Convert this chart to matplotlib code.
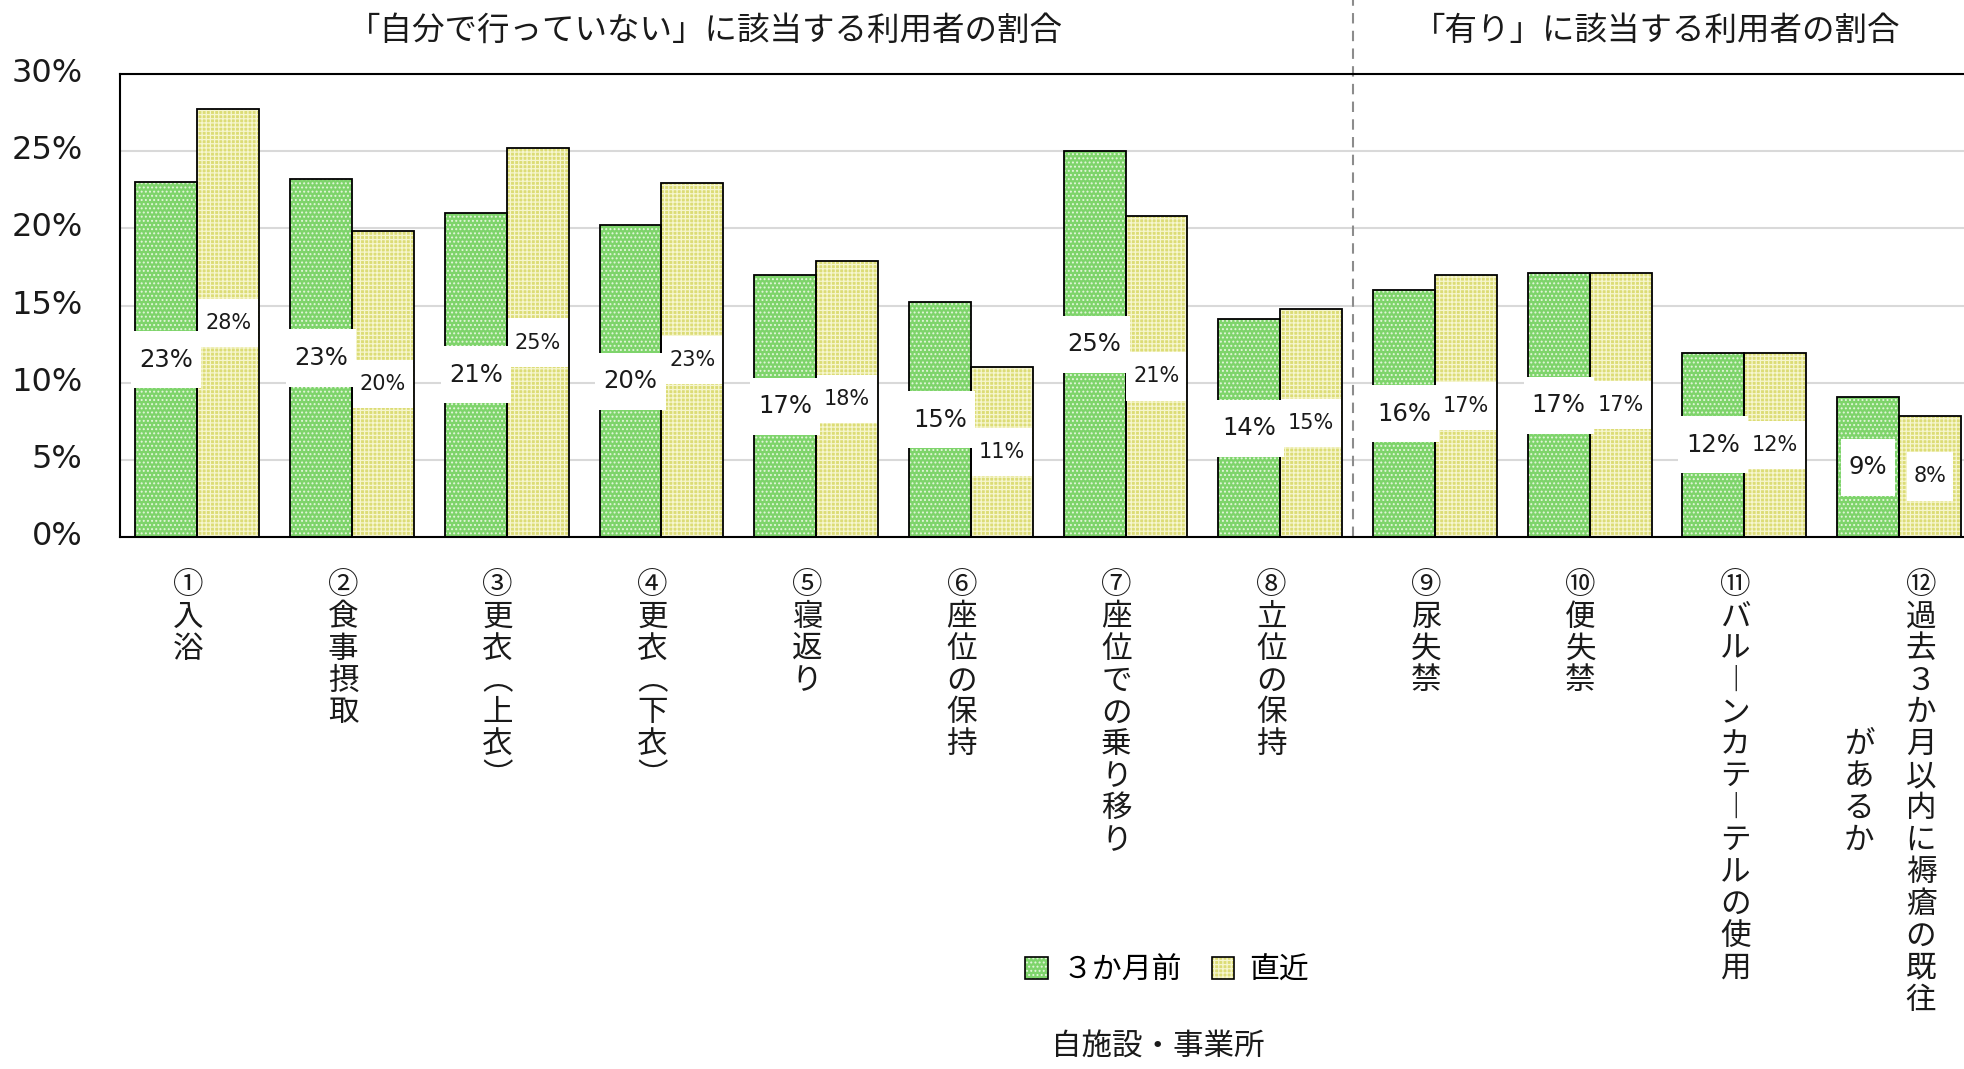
import numpy as np
import matplotlib
matplotlib.use('Agg')
import matplotlib.pyplot as plt
import matplotlib.transforms as mtransforms
from matplotlib.patches import Patch
from matplotlib.path import Path

JP = 'Noto Sans CJK JP'
plt.rcParams['font.family'] = ['DejaVu Sans', JP]
plt.rcParams['hatch.linewidth'] = 0.9

# ---------------- data ----------------
categories = ['①入浴', '②食事摂取', '③更衣（上衣）', '④更衣（下衣）', '⑤寝返り', '⑥座位の保持',
              '⑦座位での乗り移り', '⑧立位の保持', '⑨尿失禁', '⑩便失禁',
              '⑪バルーンカテーテルの使用', '⑫過去３か月以内に褥瘡の既往\nがあるか']
series_names = ['３か月前', '直近']
before = [22.98, 23.2, 21.0, 20.2, 16.95, 15.2, 25.0, 14.1, 16.0, 17.1, 11.95, 9.05]
recent = [27.7, 19.8, 25.2, 22.95, 17.9, 11.0, 20.8, 14.8, 16.95, 17.1, 11.95, 7.85]
section_titles = ['「自分で行っていない」に該当する利用者の割合', '「有り」に該当する利用者の割合']
x_label = '自施設・事業所'
yticks = [0, 5, 10, 15, 20, 25, 30]

# ---------------- style ----------------
W, H = 1964, 1069
green, green_h = '#7ed46b', '#e4f6dc'
yellow, yellow_h = '#dcdc76', '#f6f6cf'
VERT = {'（': '︵', '）': '︶', 'ー': '︱'}


class XYPad:
    def __init__(self, px, py):
        self.px, self.py = px, py

    def __call__(self, x0, y0, width, height, mutation_size):
        px = self.px * mutation_size
        py = self.py * mutation_size
        x0, y0 = x0 - px, y0 - py
        x1, y1 = x0 + width + 2 * px, y0 + height + 2 * py
        return Path([(x0, y0), (x1, y0), (x1, y1), (x0, y1), (x0, y0)], closed=True)


fig = plt.figure(figsize=(W / 100, H / 100), dpi=100)
ax = fig.add_axes([120 / W, 1 - 537 / H, 1 - 120 / W, 463 / H])

x = np.arange(len(categories))
bw = 0.4
for vals, off, fc, hc, hatch in [(before, -bw / 2, green, green_h, '....'),
                                  (recent, bw / 2, yellow, yellow_h, '++++')]:
    ax.bar(x + off, vals, bw, color=fc, edgecolor=hc, linewidth=0, hatch=hatch, zorder=2)
    ax.bar(x + off, vals, bw, facecolor='none', edgecolor='black', linewidth=1.3, zorder=3)

for vals, off, fs in [(before, -bw / 2, 17.5), (recent, bw / 2, 15)]:
    for xi, v in zip(x, vals):
        ax.text(xi + off, v / 2, f'{round(v)}%', ha='center', va='center', fontsize=fs,
                color='#1a1a1a', zorder=5,
                bbox=dict(boxstyle=XYPad(0.33, 0.68), facecolor='white', edgecolor='none'))

ax.set_xlim(-0.5, 11.42)
ax.set_ylim(0, 30)
ax.set_yticks(yticks)
ax.set_yticklabels([f'{t}%' for t in yticks], fontsize=23, color='#1a1a1a')
ax.tick_params(axis='y', length=0, pad=27)
shift = mtransforms.ScaledTranslation(0, 4 / 100, fig.dpi_scale_trans)
for lbl in ax.get_yticklabels():
    lbl.set_transform(lbl.get_transform() + shift)
ax.set_xticks([])
ax.set_axisbelow(True)
ax.yaxis.grid(True, color='#d9d9d9', linewidth=1.5)
for s in ['left', 'bottom', 'top']:
    ax.spines[s].set_linewidth(1.5)
    ax.spines[s].set_color('black')
ax.spines['right'].set_visible(False)

# dashed separator
ax.axvline(7.47, ymin=0, ymax=1.17, color='#8c8c8c', linewidth=1.5,
           linestyle=(0, (5, 3.5)), clip_on=False, zorder=1)

# section titles
fig.text(705 / W, 1 - 31 / H, section_titles[0], ha='center', va='center',
         fontsize=23.4, family=JP, color='#1a1a1a')
fig.text(1657 / W, 1 - 31 / H, section_titles[1], ha='center', va='center',
         fontsize=23.4, family=JP, color='#1a1a1a')

# vertical category labels
fs_v = 22
pitch = 23.0
first = 32.4
dx = -6.5
colsp = 44.6
for i, lab in enumerate(categories):
    cols = lab.split('\n')
    n0 = len(cols[0])
    center = first + (n0 - 1) / 2 * pitch
    nc = len(cols)
    for j, col in enumerate(cols):
        xo = dx + (nc - 1) / 2 * colsp - j * colsp
        start = first if j == 0 else center - (len(col) - 1) / 2 * pitch
        for k, ch in enumerate(col):
            yc = start + k * pitch
            ax.annotate(VERT.get(ch, ch), xy=(i, 0), xycoords=('data', 'axes fraction'),
                        xytext=(xo, -(yc + 0.38 * fs_v)), textcoords='offset points',
                        ha='center', va='baseline', fontsize=fs_v, family=JP,
                        color='#1a1a1a', annotation_clip=False)

# legend
handles = [(Patch(facecolor=green, edgecolor=green_h, hatch='....', linewidth=0),
            Patch(facecolor='none', edgecolor='black', linewidth=1.2)),
           (Patch(facecolor=yellow, edgecolor=yellow_h, hatch='++++', linewidth=0),
            Patch(facecolor='none', edgecolor='black', linewidth=1.2))]
fig.legend(handles, series_names, loc='center', bbox_to_anchor=(1167 / W, 1 - 970 / H),
           frameon=False, ncol=2, prop={'family': JP, 'size': 21.5},
           handlelength=0.75, handleheight=0.75, handletextpad=0.5, columnspacing=1.0)

fig.text(1158 / W, 1 - 1047 / H, x_label, ha='center', va='center', fontsize=22,
         family=JP, color='#1a1a1a')

fig.savefig('out.png', dpi=100)
